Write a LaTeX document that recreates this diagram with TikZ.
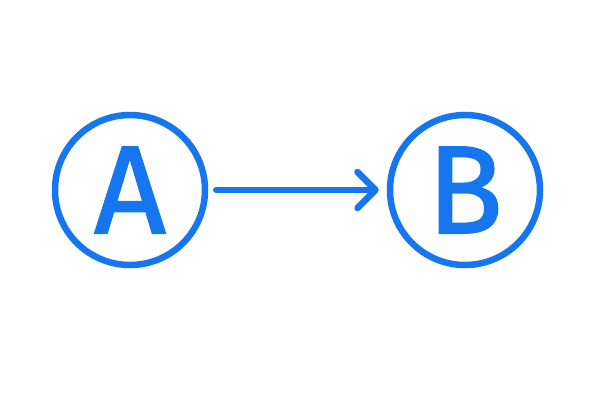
\documentclass[tikz,border=0pt]{standalone}
\usepackage{fontspec}
\setmainfont{Fira Sans}
\newfontfamily\letterfont[FakeBold=1.5]{Fira Sans}
\usetikzlibrary{arrows.meta}
\definecolor{hb}{RGB}{22,118,240}
\begin{document}
\begin{tikzpicture}[x=1pt,y=-1pt,
  circ/.style={draw=hb,line width=6.5pt,circle,minimum size=150pt,inner sep=0pt,text=hb,font=\letterfont\fontsize{125}{125}\selectfont},
  conn/.style={draw=hb,line width=6.5pt,line cap=round,shorten <=8pt,shorten >=8pt,-{Straight Barb[length=18pt,width=36pt,line width=6.5pt,round]}}]
\path[use as bounding box] (0,0) rectangle (612,408);
\node[circ] (a) at (130,190) {A};
\node[circ] (b) at (465,190) {B};
\draw[conn] (a) -- (b);
\end{tikzpicture}
\end{document}
